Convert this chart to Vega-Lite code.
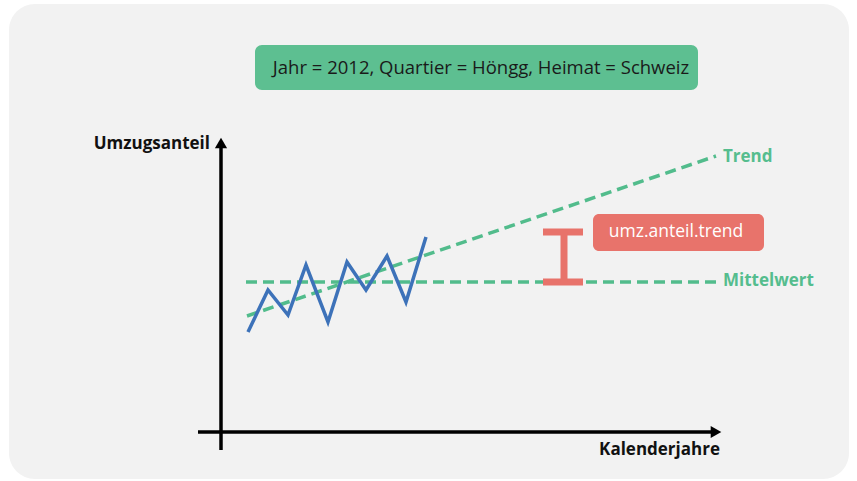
{
  "$schema": "https://vega.github.io/schema/vega-lite/v6.json",
  "width": 857,
  "height": 481,
  "padding": 0,
  "autosize": {"type": "fit", "contains": "padding"},
  "background": "white",
  "config": {"view": {"stroke": null}},
  "encoding": {
    "x": {"field": "x", "type": "quantitative", "scale": {"domain": [0, 857], "nice": false, "zero": false}, "axis": null},
    "y": {"field": "y", "type": "quantitative", "scale": {"domain": [0, 481], "nice": false, "zero": false, "reverse": true}, "axis": null}
  },
  "layer": [
    {
      "data": {"values": [{"x": 9, "x2": 849, "y": 4, "y2": 479}]},
      "mark": {"type": "rect", "fill": "#f2f2f2", "cornerRadius": 26},
      "encoding": {"x2": {"field": "x2"}, "y2": {"field": "y2"}}
    },
    {
      "data": {"values": [{"x": 255, "x2": 698, "y": 45, "y2": 90}]},
      "mark": {"type": "rect", "fill": "#5dbf91", "cornerRadius": 7},
      "encoding": {"x2": {"field": "x2"}, "y2": {"field": "y2"}}
    },
    {
      "data": {"values": [{"x": 593, "x2": 764, "y": 214, "y2": 251}]},
      "mark": {"type": "rect", "fill": "#e8736b", "cornerRadius": 6},
      "encoding": {"x2": {"field": "x2"}, "y2": {"field": "y2"}}
    },
    {
      "data": {"values": [{"x": 221, "x2": 221, "y": 146, "y2": 450}, {"x": 198, "x2": 714, "y": 432, "y2": 432}]},
      "mark": {"type": "rule", "stroke": "#000000", "strokeWidth": 3.5},
      "encoding": {"x2": {"field": "x2"}, "y2": {"field": "y2"}}
    },
    {
      "data": {"values": [{"x": 221, "y": 143}]},
      "mark": {"type": "point", "shape": "triangle-up", "filled": true, "fill": "#000000", "opacity": 1, "size": 150}
    },
    {
      "data": {"values": [{"x": 716, "y": 432}]},
      "mark": {"type": "point", "shape": "triangle-right", "filled": true, "fill": "#000000", "opacity": 1, "size": 150}
    },
    {
      "data": {"values": [
        {"x": 246, "x2": 716, "y": 282, "y2": 282},
        {"x": 247, "x2": 716, "y": 316, "y2": 156}
      ]},
      "mark": {"type": "rule", "stroke": "#52bc8c", "strokeWidth": 3.5, "strokeDash": [11, 6]},
      "encoding": {"x2": {"field": "x2"}, "y2": {"field": "y2"}}
    },
    {
      "data": {"values": [
        {"i": 0, "x": 248, "y": 332},
        {"i": 1, "x": 268, "y": 290},
        {"i": 2, "x": 288, "y": 315},
        {"i": 3, "x": 306, "y": 265},
        {"i": 4, "x": 328, "y": 322},
        {"i": 5, "x": 347, "y": 262},
        {"i": 6, "x": 366, "y": 290},
        {"i": 7, "x": 387, "y": 256},
        {"i": 8, "x": 406, "y": 302},
        {"i": 9, "x": 426, "y": 237}
      ]},
      "mark": {"type": "line", "stroke": "#3d72b9", "strokeWidth": 3.5, "strokeJoin": "miter"},
      "encoding": {"order": {"field": "i", "type": "quantitative"}}
    },
    {
      "data": {"values": [
        {"x": 543, "x2": 583, "y": 232, "y2": 232},
        {"x": 543, "x2": 583, "y": 282, "y2": 282},
        {"x": 564, "x2": 564, "y": 232, "y2": 282}
      ]},
      "mark": {"type": "rule", "stroke": "#e8736b", "strokeWidth": 7},
      "encoding": {"x2": {"field": "x2"}, "y2": {"field": "y2"}}
    },
    {
      "data": {"values": [{"x": 481, "y": 68, "t": "Jahr  = 2012, Quartier = Höngg, Heimat = Schweiz"}]},
      "mark": {"type": "text", "font": "Open Sans", "fontSize": 18.5, "fill": "#1a1a1a", "align": "center", "baseline": "middle"},
      "encoding": {"text": {"field": "t"}}
    },
    {
      "data": {"values": [{"x": 676, "y": 232, "t": "umz.anteil.trend"}]},
      "mark": {"type": "text", "font": "Open Sans", "fontSize": 17.5, "fill": "#ffffff", "align": "center", "baseline": "middle"},
      "encoding": {"text": {"field": "t"}}
    },
    {
      "data": {"values": [{"x": 723, "y": 157, "t": "Trend"}, {"x": 723, "y": 281, "t": "Mittelwert"}]},
      "mark": {"type": "text", "font": "Open Sans", "fontSize": 17, "fontWeight": "bold", "fill": "#55bd8e", "align": "left", "baseline": "middle"},
      "encoding": {"text": {"field": "t"}}
    },
    {
      "data": {"values": [{"x": 210, "y": 144, "t": "Umzugsanteil"}, {"x": 720, "y": 450, "t": "Kalenderjahre"}]},
      "mark": {"type": "text", "font": "Open Sans", "fontSize": 17, "fontWeight": "bold", "fill": "#111111", "align": "right", "baseline": "middle"},
      "encoding": {"text": {"field": "t"}}
    }
  ]
}
